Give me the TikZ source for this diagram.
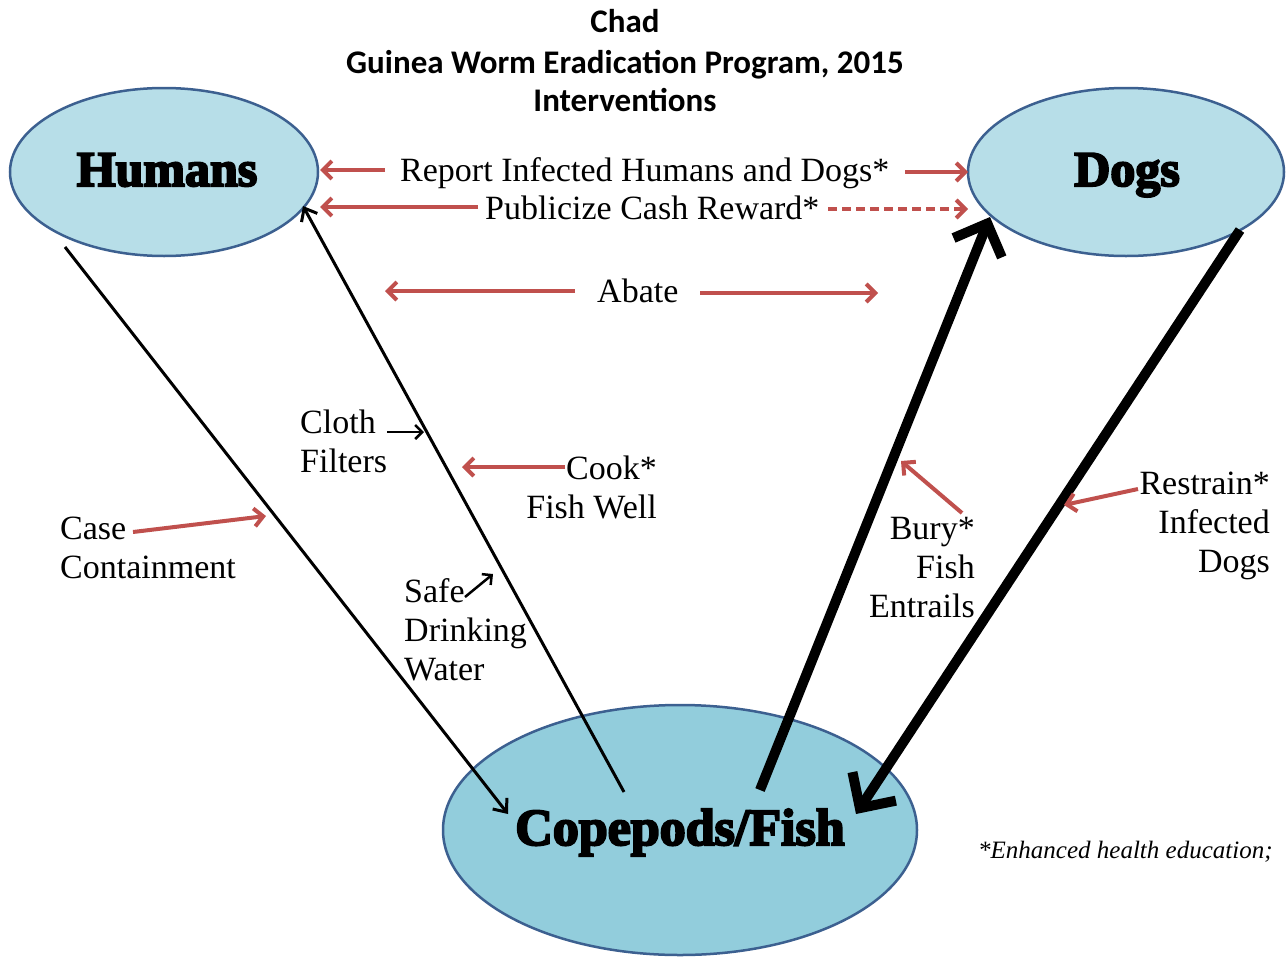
\documentclass[tikz,border=0pt]{standalone}
\usepackage{fontspec}
\setmainfont{Liberation Serif}
\newfontfamily\heavyfont[FakeBold=4]{Liberation Serif Bold}
\newfontfamily\titlefont{Carlito}
\usetikzlibrary{arrows.meta,shapes.geometric}
\definecolor{arrowred}{HTML}{C0504D}
\definecolor{topfill}{HTML}{B7DEE8}
\definecolor{botfill}{HTML}{92CDDC}
\definecolor{rimblue}{HTML}{3C6090}
\tikzset{
  blob/.style={ellipse, draw=rimblue, line width=2.5pt, inner sep=0pt},
  bigname/.style={font=\heavyfont\fontsize{50}{56}\selectfont},
  label/.style={font=\fontsize{34}{39}\selectfont, inner sep=0pt},
  redarrow/.style={draw=arrowred, line width=4pt, -{Straight Barb[length=9pt,width=18pt]}},
  thinarrow/.style={draw=black, line width=3pt, -{Straight Barb[length=11pt,width=18pt]}},
  thickarrow/.style={draw=black, line width=10pt, -{Straight Barb[length=26pt,width=52pt]}},
  smallarrow/.style={draw=black, line width=2.5pt, -{Straight Barb[length=7pt,width=14pt]}},
  titletext/.style={font=\titlefont\bfseries\fontsize{33}{38}\selectfont, inner sep=0pt, anchor=base}
}
\begin{document}
\begin{tikzpicture}[x=1pt,y=-1pt]
\useasboundingbox (0,0) rectangle (1286,972);
\fill[white] (0,0) rectangle (1286,972);

% title
\node[titletext] (t1) at (625,32) {Chad};
\node[titletext] (t2) at (625,73) {Guinea Worm Eradication Program, 2015};
\node[titletext] (t3) at (625,111) {Interventions};

% ellipses
\node[blob, fill=topfill, minimum width=308pt, minimum height=168pt] (hum) at (164,172) {};
\node[blob, fill=topfill, minimum width=316pt, minimum height=168pt] (dog) at (1126,172) {};
\node[blob, fill=botfill, minimum width=474pt, minimum height=250pt] (cop) at (680,830) {};
\node[bigname, anchor=base] (humt) at (167,186) {Humans};
\node[bigname, anchor=base] (dogt) at (1127,186) {Dogs};
\node[bigname, anchor=base, font=\heavyfont\fontsize{52}{58}\selectfont] (copt) at (680,845) {Copepods/Fish};

% coordinates
\coordinate (h1) at (65,247);
\coordinate (c1) at (508,814);
\coordinate (c2) at (624,792);
\coordinate (h2) at (303,206);
\coordinate (c3) at (760,790);
\coordinate (d3) at (990,217);
\coordinate (d4) at (1240,230);
\coordinate (c4) at (856,814);

% main connectors
\draw[thinarrow] (h1) -- (c1);
\draw[thinarrow] (c2) -- (h2);
\draw[thickarrow] (c3) -- (d3);
\draw[thickarrow] (d4) -- (c4);

% top labels
\node[label, anchor=base west] (rep) at (400,181) {Report Infected Humans and Dogs*};
\node[label, anchor=base west] (pub) at (485,219) {Publicize Cash Reward*};
\node[label, anchor=base west] (aba) at (597,302) {Abate};
\coordinate (repL) at (385,170);
\coordinate (repLt) at (320,170);
\coordinate (repR) at (905,172);
\coordinate (repRt) at (968,172);
\coordinate (pubL) at (478,207);
\coordinate (pubLt) at (320,207);
\coordinate (pubR) at (828,209);
\coordinate (pubRt) at (968,209);
\coordinate (abaL) at (575,291);
\coordinate (abaLt) at (385,291);
\coordinate (abaR) at (700,293);
\coordinate (abaRt) at (878,293);
\draw[redarrow] (repL) -- (repLt);
\draw[redarrow] (repR) -- (repRt);
\draw[redarrow] (pubL) -- (pubLt);
\draw[redarrow, dash pattern=on 9pt off 5pt] (pubR) -- (pubRt);
\draw[redarrow] (abaL) -- (abaLt);
\draw[redarrow] (abaR) -- (abaRt);

% side labels (base anchor = last line)
\node[label, anchor=base west, align=left] (clo) at (300,472) {Cloth\\Filters};
\node[label, anchor=base east, align=right] (coo) at (657,518) {Cook*\\Fish Well};
\node[label, anchor=base west, align=left] (cas) at (60,578) {Case\\Containment};
\node[label, anchor=base west, align=left] (saf) at (404,680) {Safe\\Drinking\\Water};
\node[label, anchor=base east, align=right] (bur) at (975,617) {Bury*\\Fish\\Entrails};
\node[label, anchor=base east, align=right] (res) at (1270,572) {Restrain*\\Infected\\Dogs};

\coordinate (cloS) at (387,432);
\coordinate (cloT) at (424,432);
\coordinate (cooS) at (565,467);
\coordinate (cooT) at (462,467);
\coordinate (casS) at (133,532);
\coordinate (casT) at (266,516);
\coordinate (safS) at (465,597);
\coordinate (safT) at (493,574);
\coordinate (burS) at (962,513);
\coordinate (burT) at (901,461);
\coordinate (resS) at (1138,489);
\coordinate (resT) at (1064,505);
\draw[smallarrow] (cloS) -- (cloT);
\draw[smallarrow] (safS) -- (safT);
\draw[redarrow] (cooS) -- (cooT);
\draw[redarrow] (casS) -- (casT);
\draw[redarrow] (burS) -- (burT);
\draw[redarrow] (resS) -- (resT);

% footnote
\node[anchor=base west, inner sep=0pt, font=\itshape\fontsize{25}{30}\selectfont] (foot) at (978,858) {*Enhanced health education;};
\end{tikzpicture}
\end{document}
